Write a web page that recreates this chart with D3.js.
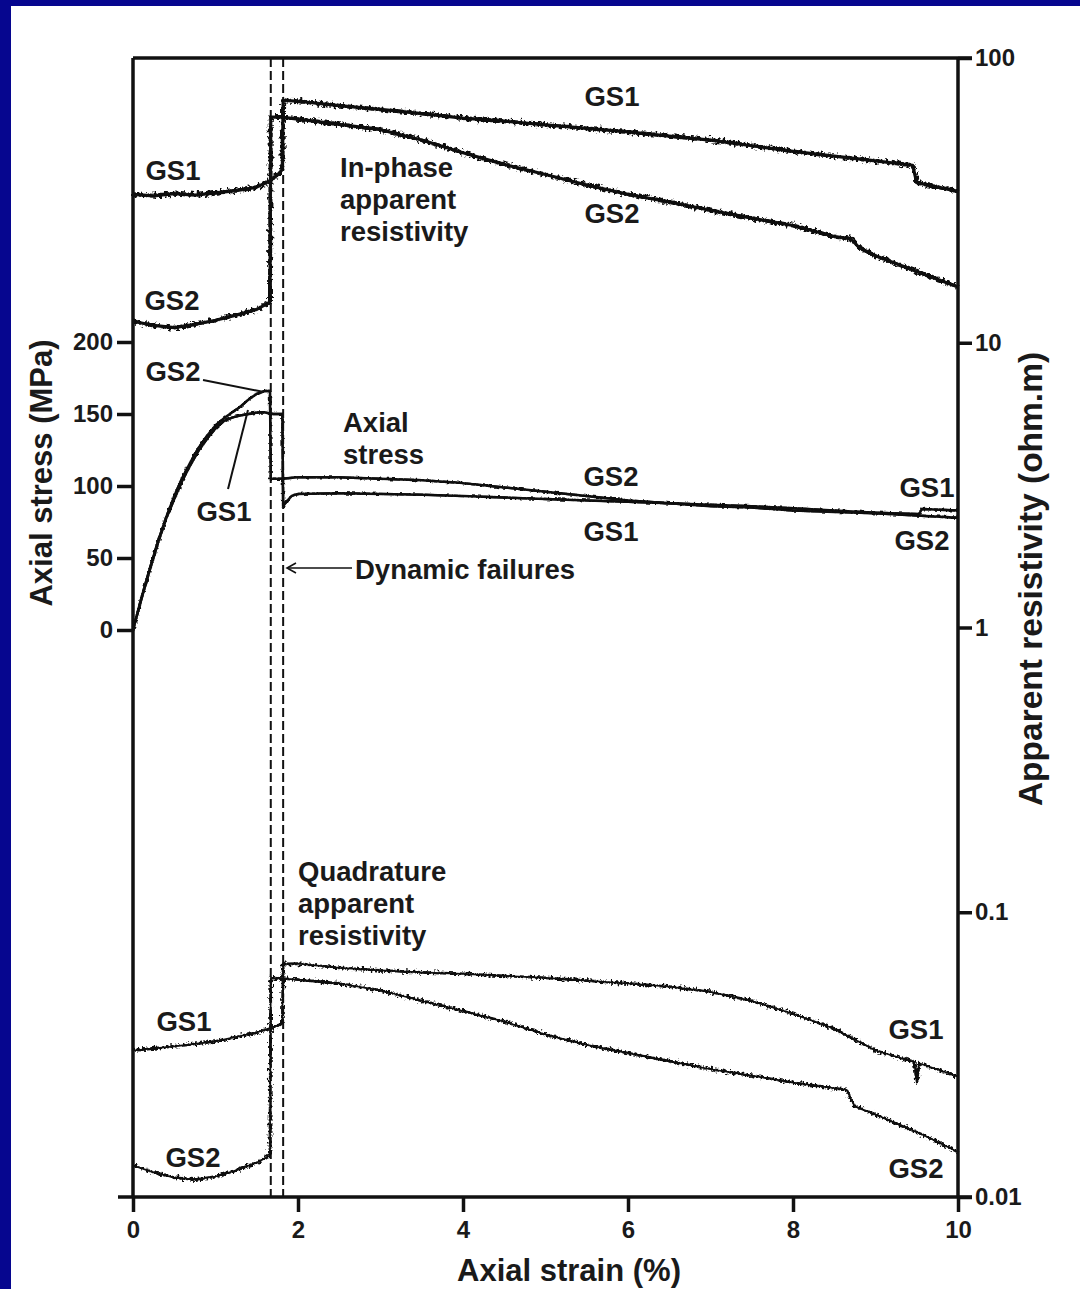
<!DOCTYPE html>
<html>
<head>
<meta charset="utf-8">
<script src="https://cdn.jsdelivr.net/npm/d3@7"></script>
<style>
  body { margin: 0; padding: 0; background: #06068f; }
  svg { display: block; }
  text { font-family: "Liberation Sans", Arial, sans-serif; font-weight: bold; fill: #1a1a1a; }
</style>
</head>
<body>
<svg id="chart" width="1080" height="1289"></svg>
<script>
// ---------------- DATA ----------------
const strainTicks = [0, 2, 4, 6, 8, 10];
const stressTicks = [0, 50, 100, 150, 200];
const resTicks = [0.01, 0.1, 1, 10, 100];
const resTickLabels = ["0.01", "0.1", "1", "10", "100"];
const failureStrains = [1.67, 1.82];

// Axial stress (MPa)
const stressGS2Strain = [0, 0.1, 0.2, 0.3, 0.4, 0.5, 0.6, 0.7, 0.8, 0.9, 1.0, 1.1, 1.2, 1.3, 1.4, 1.5, 1.6, 1.66, 1.67, 1.8, 2, 2.5, 3, 3.5, 4, 4.5, 5, 5.5, 6, 6.5, 7, 7.5, 8, 8.5, 9, 9.5, 10];
const stressGS2 = [0, 22, 42, 61, 78, 93, 106, 117, 127, 135, 142, 147, 151, 155, 160, 164, 166, 166, 105, 105, 106, 106, 105, 104, 102, 99, 96, 93, 90, 88, 86, 85, 83, 82, 81, 79.5, 78];
const stressGS1Strain = [0, 0.1, 0.2, 0.3, 0.4, 0.5, 0.6, 0.7, 0.8, 0.9, 1.0, 1.1, 1.2, 1.3, 1.4, 1.5, 1.6, 1.7, 1.81, 1.82, 1.86, 1.92, 2, 2.5, 3, 3.5, 4, 4.5, 5, 5.5, 6, 6.5, 7, 7.5, 8, 8.5, 9, 9.53, 9.56, 10];
const stressGS1 = [0, 21, 41, 60, 77, 91, 104, 115, 125, 133, 140, 145, 147.5, 149, 150, 151, 151, 150, 150, 86, 89, 93, 94.5, 95, 94.5, 94, 93, 92, 91, 90, 89, 88, 87, 86, 84.5, 83, 81.5, 80.5, 84, 83];

// In-phase apparent resistivity (ohm.m)
const inPhaseGS1Strain = [0, 0.25, 0.5, 0.75, 1.0, 1.25, 1.5, 1.67, 1.75, 1.81, 1.82, 2, 2.5, 3, 3.5, 4, 4.5, 5, 5.5, 6, 6.5, 7, 7.5, 8, 8.5, 9, 9.45, 9.5, 10];
const inPhaseGS1 = [33.2, 32.8, 33.4, 33.0, 33.6, 34.2, 35.2, 37.2, 38.8, 40.6, 71, 70.5, 68, 66, 63.8, 61.5, 60, 58.2, 56.6, 55, 53.2, 51.5, 49.2, 47, 45.2, 43.5, 42, 36.5, 34];
const inPhaseGS2Strain = [0, 0.25, 0.5, 0.75, 1.0, 1.25, 1.5, 1.66, 1.67, 1.8, 2, 2.5, 3, 3.5, 4, 4.5, 5, 5.5, 6, 6.5, 7, 7.5, 8, 8.5, 8.7, 8.8, 9, 9.5, 10];
const inPhaseGS2 = [11.9, 11.5, 11.3, 11.6, 12.0, 12.5, 13.1, 13.9, 62, 62, 61, 58.5, 56, 51.5, 46.5, 42.3, 39, 35.8, 33.2, 31.2, 29.2, 27.4, 25.8, 23.6, 23.2, 21.6, 20.2, 17.8, 15.7];

// Quadrature apparent resistivity (ohm.m)
const quadGS1Strain = [0, 0.5, 1.0, 1.5, 1.81, 1.82, 2, 2.5, 3, 3.5, 4, 4.5, 5, 5.5, 6, 6.5, 7, 7.5, 8, 8.5, 9, 9.47, 9.5, 9.53, 10];
const quadGS1 = [0.0327, 0.0338, 0.0352, 0.0378, 0.0406, 0.0658, 0.066, 0.0638, 0.0625, 0.0615, 0.0608, 0.0598, 0.0588, 0.0575, 0.0562, 0.0548, 0.0525, 0.0488, 0.044, 0.039, 0.0327, 0.0298, 0.0252, 0.0295, 0.0265];
const quadGS2Strain = [0, 0.25, 0.5, 0.75, 1.0, 1.25, 1.5, 1.66, 1.67, 2, 2.5, 3, 3.5, 4, 4.5, 5, 5.5, 6, 6.5, 7, 7.5, 8, 8.65, 8.7, 8.75, 9, 9.3, 9.6, 10];
const quadGS2 = [0.0129, 0.0122, 0.0117, 0.0115, 0.0118, 0.0124, 0.0132, 0.014, 0.0588, 0.058, 0.0562, 0.0532, 0.0488, 0.045, 0.0413, 0.0372, 0.0342, 0.032, 0.03, 0.0281, 0.0267, 0.0252, 0.0238, 0.0222, 0.0208, 0.0195, 0.0179, 0.0164, 0.0144];

// ---------------- CHART ----------------
const W = 1080, H = 1289;
const svg = d3.select("#chart");
const plot = { left: 133, right: 958, top: 58, bottom: 1197 };

svg.append("rect").attr("x", 0).attr("y", 0).attr("width", W).attr("height", H).attr("fill", "#06068f");
svg.append("rect").attr("x", 11).attr("y", 6).attr("width", W - 11).attr("height", H - 6).attr("fill", "#ffffff");

const x = d3.scaleLinear().domain([0, 10]).range([plot.left, plot.right]);
const yStress = d3.scaleLinear().domain([0, 200]).range([630, 342]);
const yRes = d3.scaleLog().domain([0.01, 100]).range([plot.bottom, plot.top]);

// noise filters to give the recorded traces their jagged look
const defs = svg.append("defs");
function jagFilter(id, freq, scale, seed) {
  const f = defs.append("filter").attr("id", id).attr("filterUnits", "userSpaceOnUse")
    .attr("x", 0).attr("y", 0).attr("width", W).attr("height", H);
  f.append("feTurbulence").attr("type", "fractalNoise").attr("baseFrequency", freq)
    .attr("numOctaves", 2).attr("seed", seed).attr("result", "t");
  f.append("feDisplacementMap").attr("in", "SourceGraphic").attr("in2", "t").attr("scale", scale)
    .attr("xChannelSelector", "R").attr("yChannelSelector", "G");
}
jagFilter("jagBig", "0.35 0.3", 8, 3);
jagFilter("jagQuad", "0.45 0.35", 7, 5);
jagFilter("jagSmall", "0.3 0.3", 4, 7);

const ink = "#111";

// dashed failure lines
svg.selectAll("line.fail").data(failureStrains).enter().append("line")
  .attr("x1", d => x(d)).attr("x2", d => x(d))
  .attr("y1", plot.top).attr("y2", plot.bottom)
  .attr("stroke", ink).attr("stroke-width", 2).attr("stroke-dasharray", "9,4");

function series(xs, ys, yScale, coreW, fuzzW, filterId) {
  const pts = xs.map((s, i) => [s, ys[i]]);
  const line = d3.line().x(d => x(d[0])).y(d => yScale(d[1]));
  const g = svg.append("g");
  g.append("path").attr("d", line(pts)).attr("fill", "none")
    .attr("stroke", ink).attr("stroke-width", coreW).attr("stroke-linejoin", "round");
  g.append("path").attr("d", line(pts)).attr("fill", "none").attr("filter", `url(#${filterId})`)
    .attr("stroke", ink).attr("stroke-width", fuzzW).attr("stroke-linejoin", "round");
  return g;
}

series(inPhaseGS1Strain, inPhaseGS1, yRes, 3.2, 4.0, "jagBig");
series(inPhaseGS2Strain, inPhaseGS2, yRes, 3.2, 4.0, "jagBig");
series(quadGS1Strain, quadGS1, yRes, 1.7, 2.8, "jagQuad");
series(quadGS2Strain, quadGS2, yRes, 1.7, 2.8, "jagQuad");
series(stressGS2Strain, stressGS2, yStress, 2.5, 2.4, "jagSmall");
series(stressGS1Strain, stressGS1, yStress, 2.5, 2.4, "jagSmall");

// frame
const frameW = 3.5;
svg.append("line").attr("x1", plot.left).attr("x2", 972).attr("y1", plot.top).attr("y2", plot.top).attr("stroke", ink).attr("stroke-width", frameW);
svg.append("line").attr("x1", 118).attr("x2", 972).attr("y1", plot.bottom).attr("y2", plot.bottom).attr("stroke", ink).attr("stroke-width", frameW);
svg.append("line").attr("x1", plot.left).attr("x2", plot.left).attr("y1", plot.top).attr("y2", plot.bottom).attr("stroke", ink).attr("stroke-width", frameW);
svg.append("line").attr("x1", plot.right).attr("x2", plot.right).attr("y1", plot.top).attr("y2", plot.bottom).attr("stroke", ink).attr("stroke-width", frameW);

// axes
function styleAxis(g) {
  g.select(".domain").remove();
  g.selectAll(".tick line").attr("stroke", ink).attr("stroke-width", 3.5);
  g.selectAll(".tick text").attr("font-size", 24).attr("fill", "#1a1a1a")
    .style("font-family", '"Liberation Sans", Arial, sans-serif').style("font-weight", "bold");
}
svg.append("g").attr("transform", `translate(${plot.left},0)`)
  .call(d3.axisLeft(yStress).tickValues(stressTicks).tickSize(16).tickPadding(4))
  .call(styleAxis);
svg.append("g").attr("transform", `translate(${plot.right},0)`)
  .call(d3.axisRight(yRes).tickValues(resTicks).tickSize(14).tickPadding(3)
    .tickFormat((d, i) => resTickLabels[i]))
  .call(styleAxis);
svg.append("g").attr("transform", `translate(0,${plot.bottom})`)
  .call(d3.axisBottom(x).tickValues(strainTicks).tickSize(15).tickPadding(9))
  .call(styleAxis);

// axis titles
svg.append("text").attr("x", 569).attr("y", 1281).attr("text-anchor", "middle").attr("font-size", 31).text("Axial strain (%)");
svg.append("text").attr("transform", "translate(52,473) rotate(-90)").attr("text-anchor", "middle").attr("font-size", 31).text("Axial stress (MPa)");
svg.append("text").attr("transform", "translate(1042,579) rotate(-90)").attr("text-anchor", "middle").attr("font-size", 33.5).text("Apparent resistivity (ohm.m)");

// annotations
const labels = [
  ["GS1", 173, 180, "middle"], ["GS1", 612, 106, "middle"], ["GS2", 612, 223, "middle"],
  ["GS2", 172, 310, "middle"], ["GS2", 173, 381, "middle"], ["GS1", 224, 521, "middle"],
  ["GS2", 611, 486, "middle"], ["GS1", 611, 541, "middle"], ["GS1", 927, 497, "middle"], ["GS2", 922, 550, "middle"],
  ["GS1", 184, 1031, "middle"], ["GS2", 193, 1167, "middle"], ["GS1", 916, 1039, "middle"], ["GS2", 916, 1178, "middle"],
  ["In-phase", 340, 177, "start"], ["apparent", 340, 209, "start"], ["resistivity", 340, 241, "start"],
  ["Axial", 343, 432, "start"], ["stress", 343, 464, "start"],
  ["Quadrature", 298, 881, "start"], ["apparent", 298, 913, "start"], ["resistivity", 298, 945, "start"],
  ["Dynamic failures", 355, 579, "start"]
];
svg.selectAll("text.ann").data(labels).enter().append("text")
  .attr("class", "ann").attr("x", d => d[1]).attr("y", d => d[2]).attr("text-anchor", d => d[3])
  .attr("font-size", 27.5).text(d => d[0]);

// leader lines
svg.append("line").attr("x1", 203).attr("y1", 380).attr("x2", 264).attr("y2", 392).attr("stroke", ink).attr("stroke-width", 2);
svg.append("line").attr("x1", 228).attr("y1", 489).attr("x2", 248).attr("y2", 410).attr("stroke", ink).attr("stroke-width", 2);

// arrow for dynamic failures
svg.append("line").attr("x1", 352).attr("y1", 568).attr("x2", 287).attr("y2", 568).attr("stroke", ink).attr("stroke-width", 1.6);
svg.append("path").attr("d", "M296,563 L287,568 L296,573").attr("fill", "none").attr("stroke", ink).attr("stroke-width", 1.6);
</script>
</body>
</html>
